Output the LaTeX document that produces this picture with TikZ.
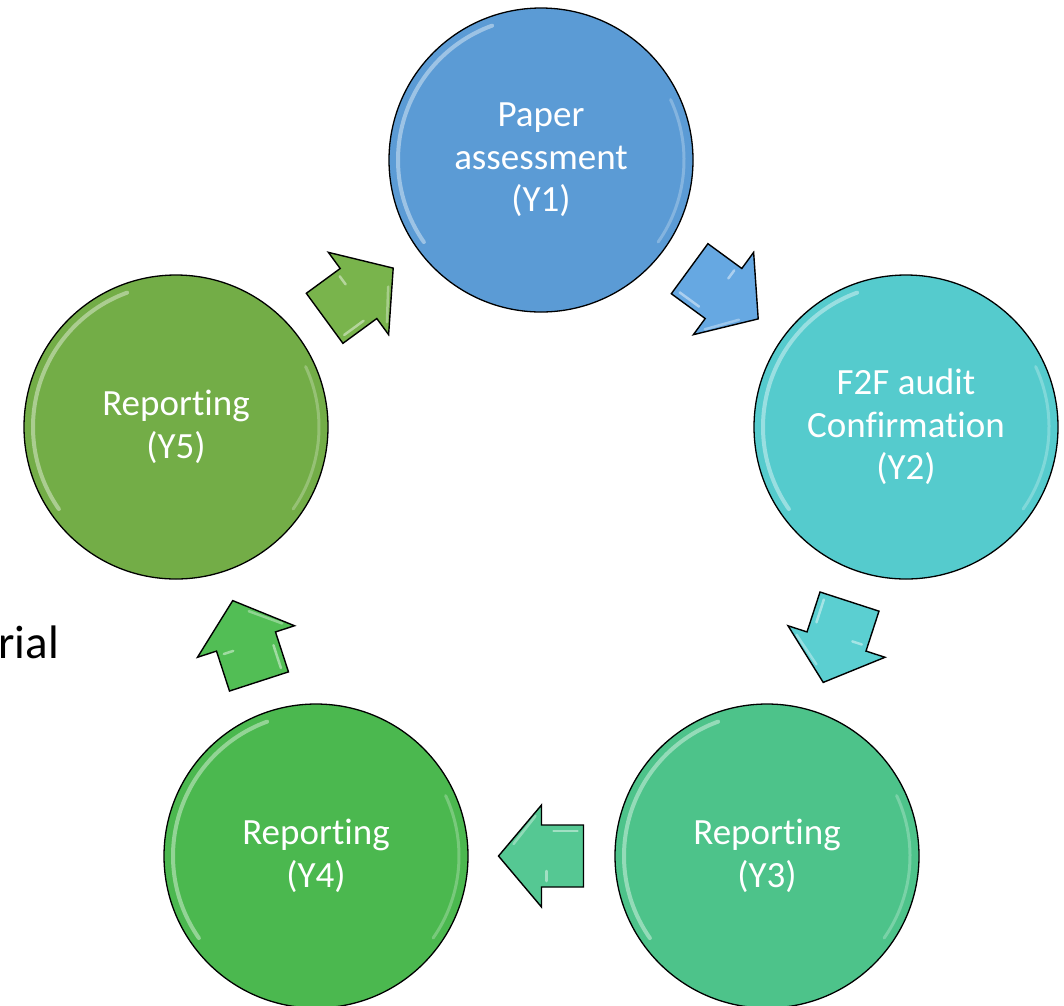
\documentclass[tikz,border=0pt]{standalone}
\usepackage{fontspec}
\setmainfont[Ligatures={NoCommon}]{Carlito}
\usetikzlibrary{calc}
\definecolor{c1}{HTML}{5B9BD5}
\definecolor{c2}{HTML}{55CBCD}
\definecolor{c3}{HTML}{4DC38A}
\definecolor{c4}{HTML}{4BB84F}
\definecolor{c5}{HTML}{73AD47}
\definecolor{a1}{HTML}{66A8E2}
\definecolor{a2}{HTML}{5BCFD1}
\definecolor{a3}{HTML}{55C893}
\definecolor{a4}{HTML}{52BE55}
\definecolor{a5}{HTML}{79B44C}
\begin{document}
\begin{tikzpicture}[x=1pt,y=-1pt,
  stage/.style={circle, draw=black, line width=1.3pt, minimum size=304pt, inner sep=0pt,
    text=white, align=center, font=\fontsize{37}{42.5}\selectfont},
  blockarrow/.style={draw=black, line width=1.4pt, line join=miter},
  gloss/.style={white, line width=4pt, line cap=round, opacity=0.4},
  glossb/.style={white, line width=3pt, line cap=round, opacity=0.25}]
\useasboundingbox (0,0) rectangle (1064,1005);
\node[stage, fill=c1] (y1) at (541,160) {Paper\\assessment\\(Y1)};
\node[stage, fill=c2] (y2) at (906,427) {F2F audit\\Confirmation\\(Y2)};
\node[stage, fill=c3] (y3) at (767,856) {Reporting\\(Y3)};
\node[stage, fill=c4] (y4) at (316,856) {Reporting\\(Y4)};
\node[stage, fill=c5] (y5) at (176,427) {Reporting\\(Y5)};
\foreach \n in {y1,y2,y3,y4,y5}{
  \draw[gloss] ([shift={(110:143pt)}]\n.center) arc[start angle=110, end angle=215, radius=143pt];
  \draw[glossb] ([shift={(-35:143pt)}]\n.center) arc[start angle=-35, end angle=25, radius=143pt];
}
\foreach \a/\b/\c/\r in {y1/y2/a1/-36.2, y2/y3/a2/-108, y3/y4/a3/180, y4/y5/a4/108, y5/y1/a5/36.2}{
  \begin{scope}[shift={($(\a)!0.5!(\b)$)}, rotate=\r]
    \draw[blockarrow, fill=\c] (-42,-31) -- (0,-31) -- (0,-51) -- (43,0) -- (0,51) -- (0,31) -- (-42,31) -- cycle;
    \draw[white, opacity=0.45, line width=2.5pt, line cap=round] (-36,25) -- (-12,25);
    \draw[white, opacity=0.45, line width=2.5pt, line cap=round] (-5,-25) -- (-5,-15);
    \draw[white, opacity=0.35, line width=2.5pt, line cap=round] (6,40) -- (28,12);
  \end{scope}
}
\node[anchor=base east, inner sep=0pt, font=\fontsize{47}{56}\selectfont] (txt) at (59,658) {rial};
\end{tikzpicture}
\end{document}
